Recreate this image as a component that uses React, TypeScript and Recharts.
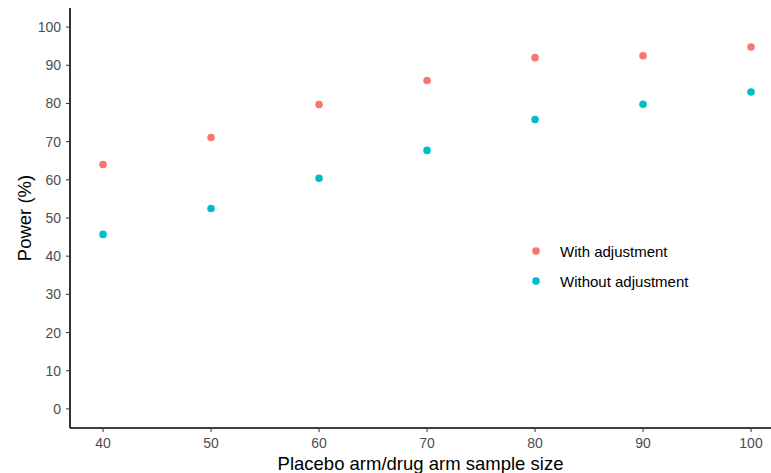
import { Scatter, ScatterChart, XAxis, YAxis } from "recharts";

const sampleSizes = [40, 50, 60, 70, 80, 90, 100];
const withAdjustment = [64.0, 71.1, 79.7, 86.0, 92.0, 92.5, 94.8];
const withoutAdjustment = [45.7, 52.5, 60.4, 67.7, 75.8, 79.8, 83.0];
const yTicks = [0, 10, 20, 30, 40, 50, 60, 70, 80, 90, 100];

const seriesNames = ["With adjustment", "Without adjustment"];
const colors = ["#F8766D", "#00BFC4"];

const withData = sampleSizes.map((x, i) => ({ x, y: withAdjustment[i] }));
const withoutData = sampleSizes.map((x, i) => ({ x, y: withoutAdjustment[i] }));

const fontFamily = "Arial, 'Liberation Sans', Helvetica, sans-serif";

function dot(color: string) {
  return (props: { cx?: number; cy?: number }) => (
    <circle cx={props.cx} cy={props.cy} r={3.8} fill={color} />
  );
}

// legend drawn as an overlay so it doesn't eat plot space
function KeyBox() {
  return (
    <div style={{ position: "absolute", left: 522, top: 236, fontFamily, fontSize: 15, color: "#000" }}>
      {seriesNames.map((name, i) => (
        <div key={name} style={{ display: "flex", alignItems: "center", height: 30 }}>
          <svg width={38} height={10}>
            <circle cx={14} cy={5} r={3.8} fill={colors[i]} />
          </svg>
          <span>{name}</span>
        </div>
      ))}
    </div>
  );
}

export default function App() {
  return (
    <div style={{ position: "absolute", left: 0, top: 0, width: 771, height: 473, background: "#fff" }}>
      <ScatterChart width={771} height={473} margin={{ top: 8, right: 0, bottom: 0, left: 0 }}>
        <XAxis
          type="number"
          dataKey="x"
          domain={[36.94, 101.85]}
          ticks={sampleSizes}
          allowDataOverflow
          height={45}
          tickSize={4}
          tickMargin={6}
          axisLine={{ stroke: "#000", strokeWidth: 1.6 }}
          tickLine={{ stroke: "#333" }}
          tick={{ fill: "#4d4d4d", fontSize: 14, fontFamily }}
          label={{
            value: "Placebo arm/drug arm sample size",
            position: "insideBottom",
            offset: 3,
            style: { fill: "#000", fontSize: 18.5, fontFamily, textAnchor: "middle" },
          }}
        />
        <YAxis
          type="number"
          dataKey="y"
          domain={[-5, 105]}
          ticks={yTicks}
          allowDataOverflow
          width={70}
          tickSize={4}
          tickMargin={5}
          axisLine={{ stroke: "#000", strokeWidth: 1.6 }}
          tickLine={{ stroke: "#333" }}
          tick={{ fill: "#4d4d4d", fontSize: 14, fontFamily }}
          label={{
            value: "Power (%)",
            angle: -90,
            position: "insideLeft",
            offset: 24,
            style: { fill: "#000", fontSize: 18.5, fontFamily, textAnchor: "middle" },
          }}
        />
        <Scatter
          name={seriesNames[0]}
          data={withData}
          fill={colors[0]}
          shape={dot(colors[0])}
          isAnimationActive={false}
        />
        <Scatter
          name={seriesNames[1]}
          data={withoutData}
          fill={colors[1]}
          shape={dot(colors[1])}
          isAnimationActive={false}
        />
      </ScatterChart>
      <KeyBox />
    </div>
  );
}
